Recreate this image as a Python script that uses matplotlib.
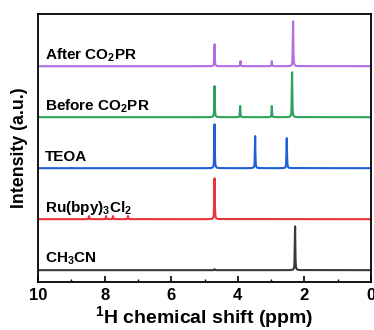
import numpy as np
import matplotlib
matplotlib.use("Agg")
import matplotlib.pyplot as plt

plt.rcParams['font.family'] = ['Liberation Sans', 'DejaVu Sans']
plt.rcParams['font.weight'] = 'bold'
plt.rcParams['mathtext.fontset'] = 'custom'
plt.rcParams['mathtext.rm'] = 'Liberation Sans:bold'
plt.rcParams['mathtext.default'] = 'rm'

# spectra, bottom to top: peak positions (ppm) and heights (a.u.)
names = ["CH$_3$CN", "Ru(bpy)$_3$Cl$_2$", "TEOA",
         "Before CO$_2$PR", "After CO$_2$PR"]
colors = ["#3a3a3a", "#e8323c", "#1f5fd8", "#2ca25a", "#b36ee2"]

ch3cn_ppm = [2.28, 4.70]
ch3cn_int = [0.86, 0.02]
ru_ppm = [8.47, 7.96, 7.75, 7.30, 4.70]
ru_int = [0.06, 0.06, 0.06, 0.06, 0.80]
teoa_ppm = [4.70, 3.48, 2.53]
teoa_int = [0.86, 0.63, 0.59]
before_ppm = [4.70, 3.93, 2.98, 2.37]
before_int = [0.61, 0.22, 0.22, 0.88]
after_ppm = [4.70, 3.92, 2.98, 2.34]
after_int = [0.43, 0.10, 0.10, 0.88]

peaks = [(ch3cn_ppm, ch3cn_int), (ru_ppm, ru_int), (teoa_ppm, teoa_int),
         (before_ppm, before_int), (after_ppm, after_int)]

OFFSET = 1.0
WIDTH = 0.008


def spectrum(ppm, positions, heights):
    y = np.zeros_like(ppm)
    for p, h in zip(positions, heights):
        y += h * WIDTH ** 2 / ((ppm - p) ** 2 + WIDTH ** 2)
    return y


fig = plt.figure(figsize=(3.74, 3.30), dpi=100)
ax = fig.add_axes([0.102, 0.145, 0.89, 0.812])

ppm = np.linspace(0, 10, 20001)
for i, (name, col, (pos, hgt)) in enumerate(zip(names, colors, peaks)):
    base = i * OFFSET
    ax.plot(ppm, base + spectrum(ppm, pos, hgt), color=col, lw=1.5)
    ax.text(9.79, base + 0.22, name, fontsize=11, fontweight='bold',
            ha='left', va='center')

ax.set_xlim(10, 0)
ax.set_ylim(-0.235, 5.02)
ax.set_yticks([])
ax.set_xticks([10, 8, 6, 4, 2, 0])
ax.set_xticks([9, 7, 5, 3, 1], minor=True)
ax.tick_params(axis='x', direction='in', labelsize=12, length=4, width=1.2,
               pad=4)
ax.tick_params(axis='x', which='minor', direction='in', length=2, width=1)
for lbl in ax.get_xticklabels():
    lbl.set_fontweight('bold')
for s in ax.spines.values():
    s.set_linewidth(1.3)

ax.set_xlabel("$^1$H chemical shift (ppm)", fontsize=14,
              fontweight='bold', labelpad=1)
ax.set_ylabel("Intensity (a.u.)", fontsize=12.8, fontweight='bold',
              labelpad=7)

fig.savefig("out.png", dpi=100)
